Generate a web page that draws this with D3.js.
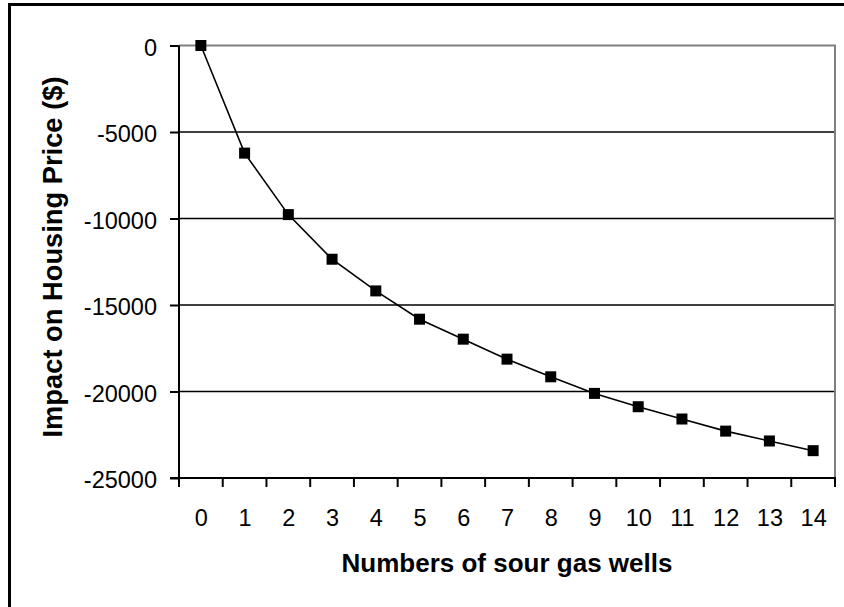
<!DOCTYPE html>
<html>
<head>
<meta charset="utf-8">
<script src="https://cdn.jsdelivr.net/npm/d3@7"></script>
<style>
  body { margin: 0; background: #fff; }
  svg { display: block; font-family: "Liberation Sans", Arial, sans-serif; }
</style>
</head>
<body>
<svg width="844" height="607"></svg>
<script>
// data
const wells = ["0", "1", "2", "3", "4", "5", "6", "7", "8", "9", "10", "11", "12", "13", "14"];
const impact = [0, -6220, -9775, -12355, -14185, -15820, -16975, -18130, -19150, -20110, -20880, -21590, -22290, -22860, -23420];
const yTicks = [0, -5000, -10000, -15000, -20000, -25000];

(function() {
    const svg = d3.select("svg");
    const plotLeft = 179, plotRight = 835, plotTop = 45.5, plotBottom = 478;

    // outer frame, runs past the right and bottom edge
    svg.append("rect")
        .attr("x", 9.5).attr("y", 4.5)
        .attr("width", 860).attr("height", 640)
        .attr("fill", "none").attr("stroke", "#000").attr("stroke-width", 3);

    const band = d3.scaleBand().domain(wells).range([plotLeft, plotRight]);
    const x = d3.scalePoint().domain(wells).range([plotLeft, plotRight]).padding(0.5);
    const y = d3.scaleLinear().domain([-25000, 0]).range([plotBottom, plotTop]);

    // gridlines
    svg.append("g").selectAll("line")
        .data(yTicks.filter(d => d !== 0 && d !== -25000))
        .join("line")
        .attr("x1", plotLeft).attr("x2", plotRight)
        .attr("y1", d => y(d)).attr("y2", d => y(d))
        .attr("stroke", "#000").attr("stroke-width", 1.3);

    // gray plot border top/right
    svg.append("path")
        .attr("d", `M${plotLeft},${y(0)}H${plotRight}V${plotBottom}`)
        .attr("fill", "none").attr("stroke", "#808080").attr("stroke-width", 2);

    // y axis
    const gy = svg.append("g")
        .attr("transform", `translate(${plotLeft},0)`)
        .call(d3.axisLeft(y).tickValues(yTicks).tickSize(9).tickPadding(13).tickFormat(d => String(d)));
    gy.select(".domain").remove();
    gy.selectAll(".tick line").attr("stroke", "#000").attr("stroke-width", 2);
    gy.selectAll("text").attr("font-size", 23.5).attr("fill", "#000").attr("dy", "0.42em");
    svg.append("line")
        .attr("x1", plotLeft).attr("x2", plotLeft).attr("y1", plotTop).attr("y2", plotBottom)
        .attr("stroke", "#000").attr("stroke-width", 2);

    // x axis labels
    const gx = svg.append("g")
        .attr("transform", `translate(0,${plotBottom})`)
        .call(d3.axisBottom(x).tickSize(0).tickPadding(48));
    gx.select(".domain").remove();
    gx.selectAll("text").attr("font-size", 23.5).attr("fill", "#000").attr("dy", 0);

    // x tick marks between categories
    svg.append("g").selectAll("line")
        .data(wells.map(d => band(d)).concat([plotRight]))
        .join("line")
        .attr("x1", d => d).attr("x2", d => d)
        .attr("y1", plotBottom).attr("y2", plotBottom + 9)
        .attr("stroke", "#000").attr("stroke-width", 2);
    svg.append("line")
        .attr("x1", plotLeft - 9).attr("x2", plotRight + 1).attr("y1", plotBottom).attr("y2", plotBottom)
        .attr("stroke", "#000").attr("stroke-width", 2);

    // series
    const line = d3.line().x((d, i) => x(wells[i])).y(d => y(d));
    svg.append("path")
        .datum(impact)
        .attr("d", line)
        .attr("fill", "none").attr("stroke", "#000").attr("stroke-width", 1.6);

    svg.append("g").selectAll("rect")
        .data(impact)
        .join("rect")
        .attr("x", (d, i) => x(wells[i]) - 5.5)
        .attr("y", d => y(d) - 5.5)
        .attr("width", 11).attr("height", 11)
        .attr("fill", "#000");

    // titles
    svg.append("text")
        .attr("x", (plotLeft + plotRight) / 2).attr("y", 572)
        .attr("text-anchor", "middle")
        .attr("font-size", 26).attr("font-weight", "bold")
        .text("Numbers of sour gas wells");

    svg.append("text")
        .attr("transform", `translate(62,257) rotate(-90)`)
        .attr("text-anchor", "middle")
        .attr("font-size", 27.3).attr("font-weight", "bold")
        .text("Impact on Housing Price ($)");
})();
</script>
</body>
</html>
